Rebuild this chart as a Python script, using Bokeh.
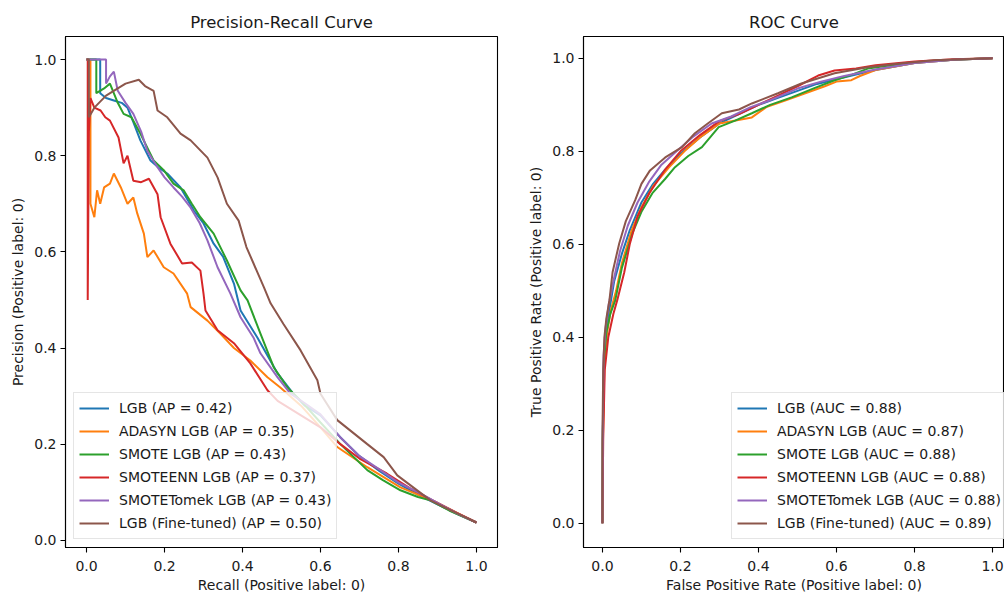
from bokeh.plotting import figure
from bokeh.layouts import row
from bokeh.models import Range1d, Legend, LegendItem, FixedTicker, PrintfTickFormatter
from bokeh.embed import file_html
from bokeh.resources import INLINE

# ---------------- data ----------------
names = ["LGB", "ADASYN LGB", "SMOTE LGB", "SMOTEENN LGB", "SMOTETomek LGB", "LGB (Fine-tuned)"]
ap_scores = ["0.42", "0.35", "0.43", "0.37", "0.43", "0.50"]
auc_scores = ["0.88", "0.87", "0.88", "0.88", "0.88", "0.89"]
colors = ["#1f77b4", "#ff7f0e", "#2ca02c", "#d62728", "#9467bd", "#8c564b"]
tick_values = [0.0, 0.2, 0.4, 0.6, 0.8, 1.0]

# Precision-Recall curves
lgb_recall = [0, 0.035, 0.035, 0.05, 0.07, 0.09, 0.105, 0.12, 0.138, 0.164, 0.185, 0.207, 0.241, 0.275, 0.30, 0.326, 0.35, 0.378, 0.395, 0.438, 0.49, 0.53, 0.56, 0.6, 0.65, 0.7, 0.75, 0.8, 0.85, 0.9, 0.95, 1.0]
lgb_precision = [1.0, 1.0, 0.93, 0.92, 0.915, 0.91, 0.90, 0.87, 0.832, 0.79, 0.775, 0.763, 0.734, 0.686, 0.659, 0.617, 0.59, 0.534, 0.478, 0.422, 0.347, 0.305, 0.28, 0.26, 0.215, 0.175, 0.145, 0.118, 0.095, 0.075, 0.055, 0.037]

adasyn_recall = [0, 0.01, 0.01, 0.02, 0.027, 0.035, 0.045, 0.06, 0.07, 0.088, 0.105, 0.12, 0.13, 0.147, 0.156, 0.172, 0.198, 0.223, 0.258, 0.267, 0.31, 0.343, 0.378, 0.42, 0.464, 0.497, 0.55, 0.6, 0.643, 0.72, 0.805, 0.85, 0.9, 0.95, 1.0]
adasyn_precision = [1.0, 1.0, 0.70, 0.672, 0.728, 0.70, 0.734, 0.742, 0.763, 0.734, 0.70, 0.713, 0.68, 0.638, 0.589, 0.603, 0.568, 0.555, 0.513, 0.485, 0.457, 0.43, 0.40, 0.374, 0.339, 0.318, 0.28, 0.235, 0.194, 0.152, 0.11, 0.095, 0.078, 0.057, 0.037]

smote_recall = [0, 0.025, 0.025, 0.045, 0.06, 0.08, 0.095, 0.115, 0.138, 0.172, 0.198, 0.223, 0.249, 0.27, 0.292, 0.326, 0.36, 0.395, 0.413, 0.446, 0.48, 0.515, 0.55, 0.6, 0.651, 0.72, 0.76, 0.805, 0.85, 0.882, 0.93, 1.0]
smote_precision = [1.0, 1.0, 0.93, 0.94, 0.95, 0.91, 0.887, 0.88, 0.846, 0.79, 0.77, 0.742, 0.728, 0.70, 0.672, 0.638, 0.582, 0.52, 0.499, 0.43, 0.36, 0.318, 0.29, 0.245, 0.20, 0.146, 0.125, 0.104, 0.09, 0.083, 0.062, 0.037]

smoteenn_recall = [0, 0.003, 0.003, 0.006, 0.01, 0.02, 0.036, 0.048, 0.06, 0.082, 0.095, 0.105, 0.12, 0.14, 0.16, 0.182, 0.19, 0.215, 0.245, 0.27, 0.292, 0.30, 0.305, 0.336, 0.378, 0.42, 0.464, 0.49, 0.55, 0.6, 0.651, 0.7, 0.77, 0.83, 0.9, 0.95, 1.0]
smoteenn_precision = [1.0, 1.0, 0.5, 0.85, 0.92, 0.90, 0.894, 0.88, 0.873, 0.838, 0.784, 0.80, 0.748, 0.745, 0.752, 0.72, 0.672, 0.617, 0.576, 0.578, 0.561, 0.513, 0.478, 0.437, 0.41, 0.368, 0.312, 0.29, 0.26, 0.235, 0.20, 0.17, 0.139, 0.108, 0.078, 0.057, 0.037]

smotetomek_recall = [0, 0.05, 0.05, 0.06, 0.07, 0.08, 0.1, 0.12, 0.14, 0.156, 0.182, 0.2, 0.223, 0.245, 0.267, 0.29, 0.31, 0.336, 0.369, 0.395, 0.428, 0.446, 0.49, 0.523, 0.56, 0.6, 0.65, 0.7, 0.75, 0.8, 0.85, 0.9, 0.95, 1.0]
smotetomek_precision = [1.0, 1.0, 0.95, 0.965, 0.975, 0.935, 0.91, 0.887, 0.85, 0.81, 0.776, 0.755, 0.734, 0.715, 0.692, 0.66, 0.624, 0.568, 0.513, 0.464, 0.422, 0.389, 0.339, 0.305, 0.285, 0.262, 0.215, 0.175, 0.148, 0.12, 0.1, 0.078, 0.056, 0.037]

tuned_recall = [0, 0.006, 0.006, 0.02, 0.05, 0.08, 0.1, 0.134, 0.15, 0.172, 0.182, 0.207, 0.241, 0.267, 0.31, 0.336, 0.36, 0.39, 0.41, 0.455, 0.472, 0.505, 0.549, 0.592, 0.60, 0.643, 0.72, 0.762, 0.797, 0.882, 0.94, 1.0]
tuned_precision = [1.0, 1.0, 0.88, 0.90, 0.925, 0.94, 0.95, 0.958, 0.945, 0.935, 0.894, 0.88, 0.846, 0.832, 0.796, 0.755, 0.70, 0.665, 0.61, 0.526, 0.493, 0.45, 0.395, 0.333, 0.305, 0.25, 0.20, 0.173, 0.135, 0.083, 0.06, 0.037]

# ROC curves
lgb_fpr = [0, 0.001, 0.004, 0.01, 0.02, 0.03, 0.05, 0.07, 0.1, 0.13, 0.16, 0.2, 0.25, 0.3, 0.35, 0.4, 0.45, 0.5, 0.55, 0.6, 0.65, 0.7, 0.8, 0.9, 1.0]
lgb_tpr = [0, 0.2, 0.36, 0.42, 0.47, 0.52, 0.58, 0.63, 0.69, 0.73, 0.76, 0.795, 0.83, 0.86, 0.88, 0.9, 0.915, 0.93, 0.945, 0.955, 0.965, 0.975, 0.99, 0.997, 1.0]

adasyn_fpr = [0, 0.001, 0.005, 0.012, 0.022, 0.035, 0.05, 0.075, 0.1, 0.13, 0.17, 0.21, 0.25, 0.3, 0.383, 0.42, 0.47, 0.52, 0.57, 0.6, 0.638, 0.66, 0.7, 0.8, 0.9, 1.0]
adasyn_tpr = [0, 0.17, 0.34, 0.41, 0.46, 0.5, 0.56, 0.63, 0.68, 0.725, 0.765, 0.8, 0.83, 0.86, 0.873, 0.895, 0.91, 0.925, 0.94, 0.95, 0.953, 0.962, 0.975, 0.99, 0.997, 1.0]

smote_fpr = [0, 0.001, 0.004, 0.01, 0.02, 0.033, 0.05, 0.077, 0.1, 0.128, 0.16, 0.186, 0.22, 0.255, 0.298, 0.34, 0.383, 0.43, 0.485, 0.54, 0.595, 0.64, 0.68, 0.75, 0.85, 0.93, 1.0]
smote_tpr = [0, 0.19, 0.35, 0.41, 0.45, 0.48, 0.55, 0.624, 0.67, 0.71, 0.74, 0.766, 0.79, 0.809, 0.852, 0.866, 0.882, 0.9, 0.916, 0.935, 0.953, 0.965, 0.978, 0.986, 0.995, 0.998, 1.0]

smoteenn_fpr = [0, 0.002, 0.006, 0.015, 0.028, 0.038, 0.056, 0.07, 0.09, 0.12, 0.16, 0.2, 0.25, 0.3, 0.35, 0.4, 0.45, 0.5, 0.553, 0.595, 0.65, 0.7, 0.8, 0.9, 1.0]
smoteenn_tpr = [0, 0.18, 0.33, 0.40, 0.45, 0.48, 0.54, 0.6, 0.66, 0.71, 0.76, 0.8, 0.835, 0.865, 0.88, 0.9, 0.92, 0.94, 0.963, 0.974, 0.978, 0.985, 0.993, 0.998, 1.0]

smotetomek_fpr = [0, 0.001, 0.003, 0.008, 0.016, 0.028, 0.045, 0.065, 0.09, 0.12, 0.15, 0.19, 0.23, 0.28, 0.33, 0.38, 0.43, 0.5, 0.56, 0.62, 0.7, 0.8, 0.9, 1.0]
smotetomek_tpr = [0, 0.2, 0.36, 0.42, 0.47, 0.52, 0.585, 0.64, 0.69, 0.735, 0.77, 0.8, 0.83, 0.86, 0.875, 0.895, 0.91, 0.935, 0.95, 0.962, 0.976, 0.99, 0.997, 1.0]

tuned_fpr = [0, 0, 0.002, 0.005, 0.01, 0.018, 0.026, 0.043, 0.06, 0.084, 0.1, 0.122, 0.161, 0.204, 0.237, 0.27, 0.306, 0.35, 0.383, 0.45, 0.51, 0.595, 0.68, 0.75, 0.85, 0.92, 1.0]
tuned_tpr = [0, 0.18, 0.33, 0.40, 0.44, 0.48, 0.54, 0.602, 0.65, 0.695, 0.73, 0.759, 0.787, 0.809, 0.839, 0.86, 0.882, 0.89, 0.903, 0.925, 0.946, 0.968, 0.981, 0.988, 0.996, 0.998, 1.0]

pr_curves = [(lgb_recall, lgb_precision), (adasyn_recall, adasyn_precision), (smote_recall, smote_precision),
             (smoteenn_recall, smoteenn_precision), (smotetomek_recall, smotetomek_precision), (tuned_recall, tuned_precision)]
roc_curves = [(lgb_fpr, lgb_tpr), (adasyn_fpr, adasyn_tpr), (smote_fpr, smote_tpr),
              (smoteenn_fpr, smoteenn_tpr), (smotetomek_fpr, smotetomek_tpr), (tuned_fpr, tuned_tpr)]

FONT = "DejaVu Sans"
TXT = "#1a1a1a"


def style(p, title):
    p.title.text = title
    p.title.text_font = FONT
    p.title.text_font_size = "16.5px"
    p.title.text_font_style = "normal"
    p.title.text_color = TXT
    p.title.align = "center"
    p.title.standoff = 9
    p.outline_line_color = "black"
    p.outline_line_width = 1.1
    p.outline_line_alpha = 1.0
    p.xgrid.visible = False
    p.ygrid.visible = False
    p.background_fill_color = "white"
    p.border_fill_color = "white"
    for ax in [p.xaxis[0], p.yaxis[0]]:
        ax.ticker = FixedTicker(ticks=tick_values)
        ax.formatter = PrintfTickFormatter(format="%.1f")
        ax.axis_line_color = "black"
        ax.axis_line_width = 1.1
        ax.major_tick_line_color = "black"
        ax.major_tick_line_width = 1.1
        ax.major_tick_in = 0
        ax.major_tick_out = 5
        ax.minor_tick_in = 0
        ax.minor_tick_out = 0
        ax.major_label_text_font = FONT
        ax.major_label_text_font_size = "14px"
        ax.major_label_text_color = TXT
        ax.axis_label_text_font = FONT
        ax.axis_label_text_font_size = "14px"
        ax.axis_label_text_font_style = "normal"
        ax.axis_label_text_color = TXT
    p.xaxis[0].major_label_standoff = 8
    p.xaxis[0].axis_label_standoff = 3
    p.yaxis[0].major_label_standoff = 4
    p.yaxis[0].axis_label_standoff = 5


def make_legend(p, items, loc):
    lg = Legend(items=items, location=loc)
    lg.label_text_font = FONT
    lg.label_text_font_size = "14px"
    lg.label_text_color = TXT
    lg.glyph_width = 30
    lg.glyph_height = 20
    lg.label_height = 20
    lg.spacing = 3
    lg.padding = 5
    lg.margin = 0
    lg.label_standoff = 10
    lg.border_line_color = "#cccccc"
    lg.border_line_width = 1
    lg.background_fill_color = "white"
    lg.background_fill_alpha = 0.8
    p.add_layout(lg)


# ---------------- Precision-Recall ----------------
p1 = figure(width=525, height=599, output_backend="svg", toolbar_location=None,
            x_range=Range1d(-0.054, 1.054), y_range=Range1d(-0.015, 1.048),
            min_border_left=65, min_border_right=28, min_border_top=36, min_border_bottom=52,
            x_axis_label="Recall (Positive label: 0)", y_axis_label="Precision (Positive label: 0)")
style(p1, "Precision-Recall Curve")
items1 = []
for (xs, ys), name, sc, c in zip(pr_curves, names, ap_scores, colors):
    r = p1.line(xs, ys, line_color=c, line_width=2)
    items1.append(LegendItem(label=f"{name} (AP = {sc})", renderers=[r]))
make_legend(p1, items1, (8, 8))

# ---------------- ROC ----------------
p2 = figure(width=479, height=599, output_backend="svg", toolbar_location=None,
            x_range=Range1d(-0.0485, 1.0306), y_range=Range1d(-0.052, 1.047),
            min_border_left=56, min_border_right=0, min_border_top=36, min_border_bottom=52,
            x_axis_label="False Positive Rate (Positive label: 0)", y_axis_label="True Positive Rate (Positive label: 0)")
style(p2, "ROC Curve")
items2 = []
for (xs, ys), name, sc, c in zip(roc_curves, names, auc_scores, colors):
    r = p2.line(xs, ys, line_color=c, line_width=2)
    items2.append(LegendItem(label=f"{name} (AUC = {sc})", renderers=[r]))
make_legend(p2, items2, (148, 8))

layout = row(p1, p2)
open("out.html", "w").write(file_html(layout, INLINE))
